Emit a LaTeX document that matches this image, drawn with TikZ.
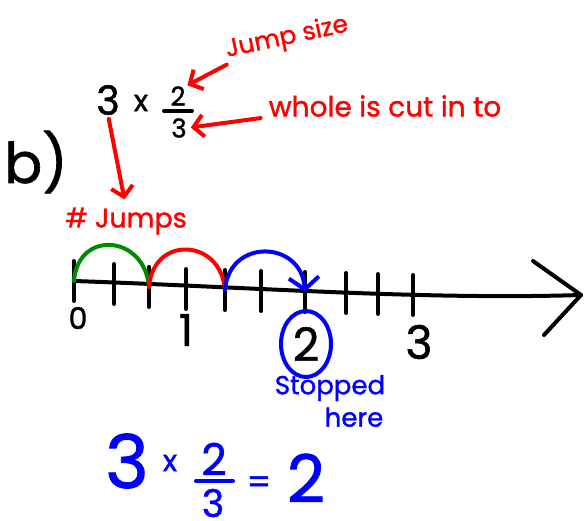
\documentclass[tikz,border=0pt]{standalone}
\usepackage{fontspec}
\setmainfont{Poppins}[FakeBold=1.2]
\usetikzlibrary{arrows.meta, positioning}
\definecolor{penred}{RGB}{255,0,0}
\definecolor{pengreen}{RGB}{0,140,0}
\definecolor{penblue}{RGB}{0,0,255}

\begin{document}
\begin{tikzpicture}[x=1pt, y=-1pt,
  ink/.style={line width=4pt, line cap=round, line join=round},
  hand/.style={inner sep=0pt, font=\fontsize{#1}{#1}\selectfont},
  redarrow/.style={ink, penred, -{Straight Barb[length=10pt, width=22pt]}},
  node distance=6pt
]
\useasboundingbox (0,0) rectangle (584,520);
\node[hand=56] (part) at (36,162) {b)};
\node[hand=40] (three) at (108,100) {3};
\node[hand=30] (times) at (141,103) {x};
\node[hand=26] (num) at (178,96) {2};
\node[hand=26] (den) at (179,128) {3};
\draw[ink] (164,111) -- (192,111);
\node[hand=25, penred, rotate=12] (jump) at (287,38) {Jump size};
\node[hand=28, penred] (whole) at (385,106) {whole is cut in to};
\node[hand=27, penred] (jumps) at (126,221) {\# Jumps};
\draw[redarrow, shorten <=2pt, shorten >=2pt] (jump.south west) -- (num.north east);
\draw[redarrow, shorten <=8pt, shorten >=4pt] (whole.south west) -- (den.east);
\draw[redarrow, shorten <=4pt, shorten >=8pt] (three.south) -- (jumps.north);

\draw[ink] (74,281) .. controls (250,287) and (420,300) .. (581,295);
\draw[ink] (533,261) -- (581,295) -- (544,335);
\foreach \x/\y [count=\i from 0] in {74/281, 114/284, 149/287, 186/289, 225/290,
    261/291, 305/292, 346/293, 378/294, 413/295} {
  \coordinate (t\i) at (\x,\y);
  \draw[ink] (\x,\y-20) -- (\x,\y+20);
}
\node[hand=30] (n0) at (78,318) {0};
\node[hand=44] (n1) at (186,330) {1};
\node[hand=46] (n2) at (306,344) {2};
\node[hand=46] (n3) at (419,342) {3};
\draw[ink, penblue] (n2) ellipse [x radius=25pt, y radius=33pt];

\draw[ink, pengreen] (t0) .. controls +(4,-52) and +(-4,-52) .. (t2);
\draw[ink, penred] (t2) .. controls +(4,-52) and +(-4,-52) .. (t4);
\draw[ink, penblue, -{Straight Barb[length=12pt, width=30pt]}] (t4) .. controls +(4,-52) and +(-4,-52) .. (t6);

\node[hand=26, penblue] (stopped) at (330,388) {Stopped};
\node[hand=26, penblue, below=6pt of stopped, xshift=24pt] (here) {here};

\node[hand=74, penblue] (eqthree) at (127,461) {3};
\node[hand=30, penblue] (eqtimes) at (170,463) {x};
\node[hand=44, penblue] (eqnum) at (214,459) {2};
\draw[ink, penblue] (196,481) -- (233,481);
\node[hand=38, penblue] (eqden) at (213,503) {3};
\node[hand=34, penblue] (eqeq) at (259,485) {=};
\node[hand=66, penblue] (eqtwo) at (306,478) {2};
\end{tikzpicture}
\end{document}
